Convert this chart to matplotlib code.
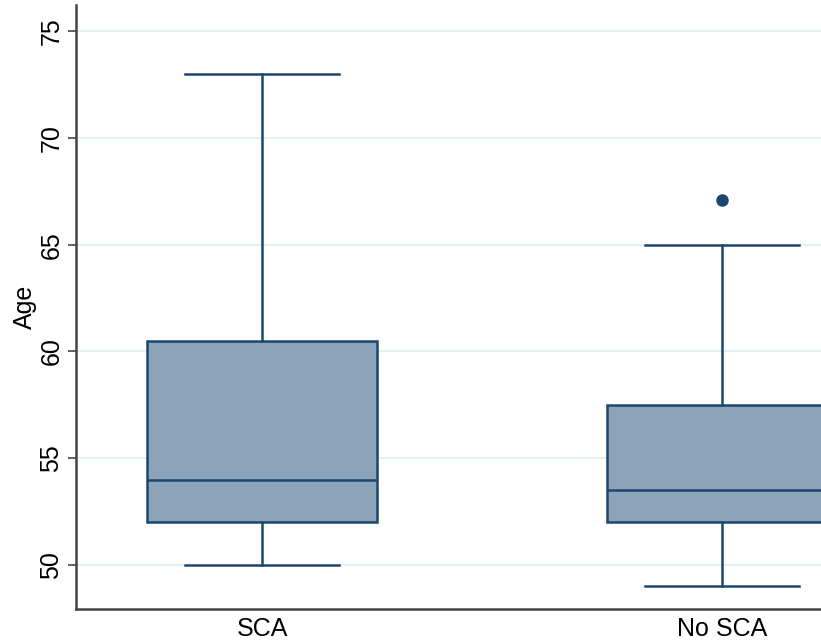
import matplotlib.pyplot as plt

plt.rcParams['font.family'] = ['Liberation Sans', 'DejaVu Sans']

# box summary per group (age in years)
groups = ['SCA', 'No SCA']
whislo = [50, 49]
q1 = [52, 52]
med = [54, 53.5]
q3 = [60.5, 57.5]
whishi = [73, 65]
outliers = [[], [67.1]]
yticks = [50, 55, 60, 65, 70, 75]

navy = '#1a476f'
fill = '#8da3b9'

stats = []
for i, g in enumerate(groups):
    stats.append(dict(label=g, whislo=whislo[i], q1=q1[i], med=med[i],
                      q3=q3[i], whishi=whishi[i], fliers=outliers[i]))

fig = plt.figure(figsize=(8.21, 6.44), dpi=100)
ax = fig.add_axes([76/821, 35/644, 745/821, 604/644])

ax.bxp(stats, positions=[1, 2], widths=0.502, capwidths=0.335,
       patch_artist=True,
       boxprops=dict(facecolor=fill, edgecolor=navy, linewidth=1.8),
       medianprops=dict(color=navy, linewidth=1.8),
       whiskerprops=dict(color=navy, linewidth=1.8),
       capprops=dict(color=navy, linewidth=1.8),
       flierprops=dict(marker='o', markerfacecolor=navy, markeredgecolor=navy,
                       markersize=8))

ax.set_xlim(0.5957, 2.215)
ax.set_ylim(47.94, 76.22)
ax.set_yticks(yticks)
ax.set_yticklabels([str(t) for t in yticks], rotation=90, va='center',
                   fontsize=18)
ax.set_xticks([1, 2])
ax.set_xticklabels(groups, fontsize=18)
ax.tick_params(axis='x', length=0, pad=6)
ax.tick_params(axis='y', length=6, width=1.2, color='#444444', pad=3)
ax.set_ylabel('Age', fontsize=18, labelpad=2)

ax.grid(axis='y', color='#e8f0f2', linewidth=1.5)
ax.set_axisbelow(True)
for s in ['top', 'right']:
    ax.spines[s].set_visible(False)
for s in ['left', 'bottom']:
    ax.spines[s].set_color('#444444')
    ax.spines[s].set_linewidth(1.8)

plt.savefig('out.png', dpi=100)
